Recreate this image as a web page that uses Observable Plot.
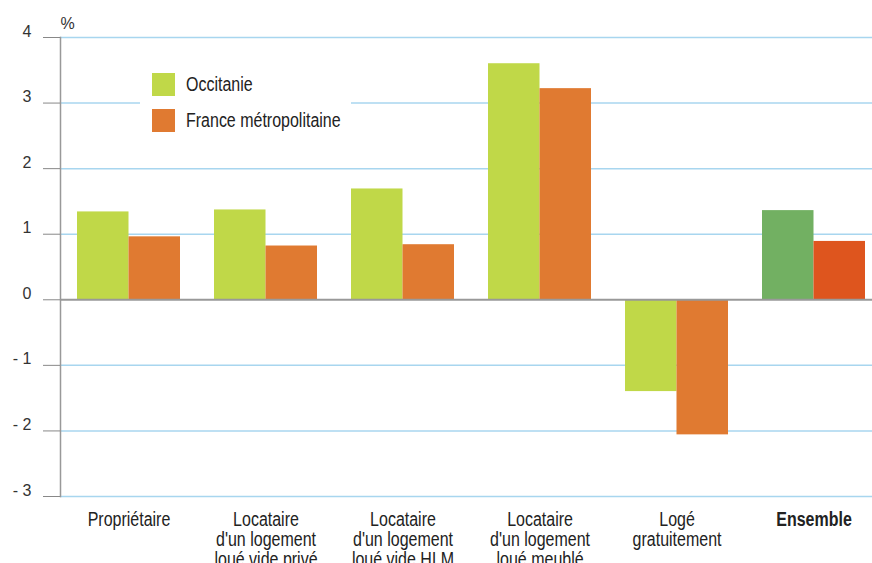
<!DOCTYPE html>
<html>
<head>
<meta charset="utf-8">
<script src="https://cdn.jsdelivr.net/npm/d3@7"></script>
<script src="https://cdn.jsdelivr.net/npm/@observablehq/plot@0.6"></script>
<style>
  body { margin: 0; background: #fff; }
  #wrap { position: relative; width: 872px; height: 563px; overflow: hidden; background: #fff; }
  #legend { position: absolute; left: 140px; top: 64px; width: 211px; height: 77px; background: #fff; }
  .item { position: absolute; left: 12px; height: 23px; display: flex; align-items: center; color: #222; white-space: nowrap; }
  .sw { width: 23px; height: 23px; margin-right: 11px; flex: none; }
  .lbl { display: inline-block; transform-origin: left center; }
</style>
</head>
<body>
<div id="wrap"><div id="chart"></div><div id="legend"></div></div>
<script>
// ---- data ----
const categories = [
  "Propriétaire",
  "Locataire\nd'un logement\nloué vide privé",
  "Locataire\nd'un logement\nloué vide HLM",
  "Locataire\nd'un logement\nloué meublé",
  "Logé\ngratuitement",
  "Ensemble"
];
const series = ["Occitanie", "France métropolitaine"];
const occitanie = [1.34, 1.37, 1.69, 3.60, -1.40, 1.36];
const france    = [0.96, 0.82, 0.84, 3.22, -2.06, 0.89];
const yTicks = [-3, -2, -1, 0, 1, 2, 3, 4];
const yTickLabels = ["- 3", "- 2", "- 1", "0", "1", "2", "3", "4"];
const totalCategory = "Ensemble";

// ---- styles ----
const colors = {
  "Occitanie": "#c0d848",
  "France métropolitaine": "#e07a31"
};
const totalColors = {
  "Occitanie": "#72b062",
  "France métropolitaine": "#de551e"
};

function hasFont(name) {
  const c = document.createElement("canvas").getContext("2d");
  const t = "Propriétaire mmmwwwlli 0123";
  c.font = "40px monospace";
  const a = c.measureText(t).width;
  c.font = `40px "${name}", monospace`;
  const b = c.measureText(t).width;
  return Math.abs(a - b) > 0.5;
}
const narrow = hasFont("Liberation Sans Narrow");
const FONT = narrow ? '"Liberation Sans Narrow", sans-serif' : '"Liberation Sans", Arial, sans-serif';
const SX = narrow ? 1 : 0.82;   // horizontal condensing when no narrow face is installed

const W = 872, H = 563;
const mL = 60, mR = 0, mT = 37, mB = 67;
const padIn = 34 / 137, padOut = 12 / 137, align = 17 / 24;

const band = d3.scaleBand().domain(categories).range([mL, W - mR])
  .paddingInner(padIn).paddingOuter(padOut).align(align);
const bw = band.bandwidth();

const rows = [];
categories.forEach((c, i) => {
  rows.push({category: c, series: series[0], value: occitanie[i]});
  rows.push({category: c, series: series[1], value: france[i]});
});
const fillOf = d => (d.category === totalCategory ? totalColors : colors)[d.series];

const chart = Plot.plot({
  width: W, height: H,
  marginLeft: mL, marginRight: mR, marginTop: mT, marginBottom: mB,
  style: {fontFamily: '"Liberation Sans", Arial, sans-serif', background: "white", overflow: "visible"},
  x: {domain: categories, paddingInner: padIn, paddingOuter: padOut, align: align, label: null},
  y: {domain: [-3, 4], label: null},
  color: {type: "identity"},
  marks: [
    Plot.gridY(yTicks.filter(t => t !== 0), {stroke: "#a8d6ef", strokeOpacity: 1, strokeWidth: 1.5}),
    Plot.barY(rows.filter(d => d.series === series[0]), {x: "category", y: "value", fill: fillOf, insetLeft: 0, insetRight: bw / 2}),
    Plot.barY(rows.filter(d => d.series === series[1]), {x: "category", y: "value", fill: fillOf, insetLeft: bw / 2, insetRight: 0}),
    Plot.ruleY([0], {stroke: "#999", strokeWidth: 2}),
    Plot.frame({anchor: "left", stroke: "#999", strokeWidth: 1.5}),
    Plot.axisY(yTicks, {tickSize: 17, stroke: "#888", tickFormat: () => "", label: null}),
    Plot.axisY(yTicks, {tickSize: 0, tickPadding: 29, dy: -6, fontSize: 16, fill: "#333",
      tickFormat: d => yTickLabels[yTicks.indexOf(d)], label: null}),
    Plot.text(["%"], {frameAnchor: "top-left", dy: -9, textAnchor: "start", lineAnchor: "bottom", fontSize: 16, fill: "#333"}),
    Plot.axisX(categories.filter(c => c !== totalCategory), {tickSize: 0, tickPadding: 15, fontSize: 19.5,
      lineHeight: 1.03, fill: "#222", label: null, fontFamily: FONT}),
    Plot.axisX([totalCategory], {tickSize: 0, tickPadding: 15, fontSize: 19.5, fontWeight: "bold",
      lineHeight: 1.03, fill: "#222", label: null, fontFamily: FONT})
  ]
});
document.getElementById("chart").appendChild(chart);

// condense category labels horizontally around their own centre (narrow-face look)
if (SX !== 1) {
  const NS = "http://www.w3.org/2000/svg";
  const texts = Array.from(chart.querySelectorAll('g[aria-label="x-axis tick label"] text'));
  const jobs = texts.map(t => {
    const r = t.getBoundingClientRect();
    const pt = chart.createSVGPoint();
    pt.x = r.x + r.width / 2; pt.y = r.y;
    const local = pt.matrixTransform(t.parentNode.getScreenCTM().inverse());
    return [t, local.x];
  });
  jobs.forEach(([t, cx]) => {
    const g = document.createElementNS(NS, "g");
    g.setAttribute("transform", `translate(${cx},0) scale(${SX},1) translate(${-cx},0)`);
    t.parentNode.insertBefore(g, t);
    g.appendChild(t);
  });
}

// ---- legend (overlay) ----
const legend = document.getElementById("legend");
series.forEach((s, i) => {
  const it = document.createElement("div");
  it.className = "item";
  it.style.top = (9 + i * 36) + "px";
  it.style.fontFamily = FONT;
  it.style.fontSize = "19.5px";
  const sw = document.createElement("div");
  sw.className = "sw";
  sw.style.background = colors[s];
  const tx = document.createElement("span");
  tx.className = "lbl";
  tx.style.transform = `scaleX(${SX})`;
  tx.textContent = s;
  it.appendChild(sw); it.appendChild(tx);
  legend.appendChild(it);
});
</script>
</body>
</html>
